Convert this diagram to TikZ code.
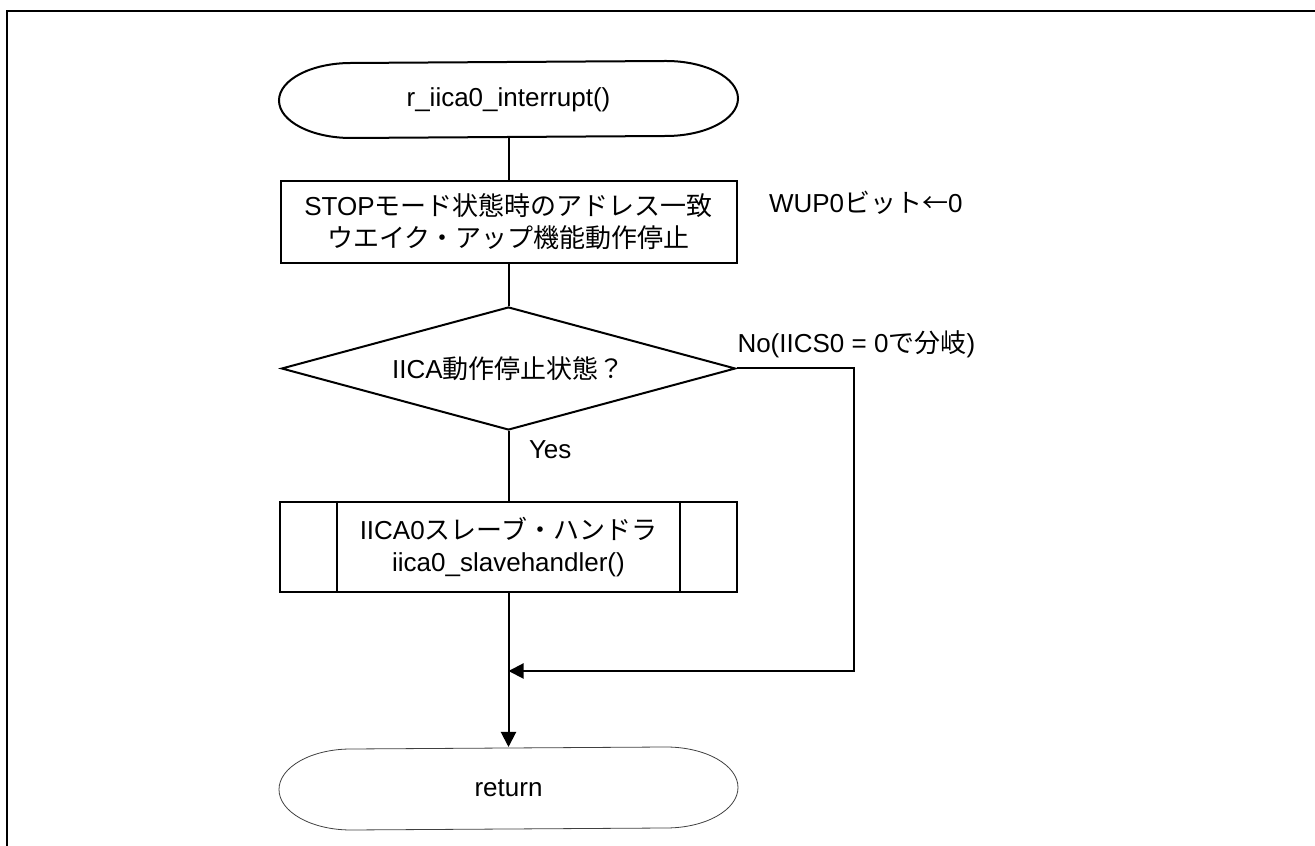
\documentclass[tikz,border=0pt]{standalone}
\usepackage{fontspec}
\setmainfont{Liberation Sans}
\newfontfamily\jpfont{Noto Sans CJK JP}
\newcommand\J[1]{{\jpfont #1}}
\usetikzlibrary{shapes.geometric,arrows.meta}
\begin{document}
\begin{tikzpicture}[x=1pt,y=1pt,
  font=\fontsize{26}{32}\selectfont,
  line width=2pt,
  flow/.style={line width=2pt},
  arr/.style={line width=2pt,-{Triangle[length=15pt,width=15pt]}},
  term/.style={rectangle, minimum width=457, inner sep=0, align=center},
  procbox/.style={draw, rectangle, minimum width=456, minimum height=82, inner sep=0, align=center},
  decbox/.style={draw, diamond, aspect=3.7, minimum width=454, minimum height=123, inner sep=0, align=center},
  subbox/.style={draw, rectangle, minimum width=457, minimum height=90, inner sep=0, align=center},
  lbl/.style={anchor=west, inner sep=0}
]
\useasboundingbox (0,0) rectangle (1315,846);
% frame
\draw[line width=2.5pt] (7,0) -- (7,835) -- (1315,835);

% start terminal
\node[term, minimum height=75] (start) at (508.5,746.5) {r\_iica0\_interrupt()};
\draw ([xshift=72]start.south west)
  arc[start angle=270, end angle=90, x radius=72, y radius=37.5]
  -- ([xshift=-72]start.north east)
  arc[start angle=90, end angle=-90, x radius=72, y radius=37.5]
  -- cycle;

% process
\node[procbox] (proc) at (508.5,624) {STOP\J{モード状態時のアドレス一致}\\\J{ウエイク・アップ機能動作停止}};
\node[lbl] (wup) at (768,643) {WUP0\J{ビット←}0};

% decision
\node[decbox] (dec) at (508.5,477.5) {IICA\J{動作停止状態？}};
\node[anchor=south west, inner sep=0] (nolbl) at ([yshift=10]dec.east) {No(IICS0 = 0\J{で分岐})};
\node[lbl] (yes) at (528,396) {Yes};

% subroutine
\node[subbox] (sub) at (508.5,299) {IICA0\J{スレーブ・ハンドラ}\\iica0\_slavehandler()};
\draw ([xshift=58]sub.north west) -- ([xshift=58]sub.south west);
\draw ([xshift=-58]sub.north east) -- ([xshift=-58]sub.south east);

% return terminal
\node[term, minimum height=81] (ret) at (508.5,57.5) {return};
\draw[line width=0.8pt, black!75] ([xshift=72]ret.south west)
  arc[start angle=270, end angle=90, x radius=72, y radius=40.5]
  -- ([xshift=-72]ret.north east)
  arc[start angle=90, end angle=-90, x radius=72, y radius=40.5]
  -- cycle;

% connectors
\coordinate (merge) at (508.5,175);
\coordinate (corner) at (854,175);
\draw[flow] (start.south) -- (proc.north);
\draw[flow] (proc.south) -- (dec.north);
\draw[flow] (dec.south) -- (sub.north);
\draw[flow] (sub.south) -- (merge);
\draw[arr] (merge) -- (ret.north);
\draw[arr] (dec.east) -| (corner) -- (merge);
\end{tikzpicture}
\end{document}
